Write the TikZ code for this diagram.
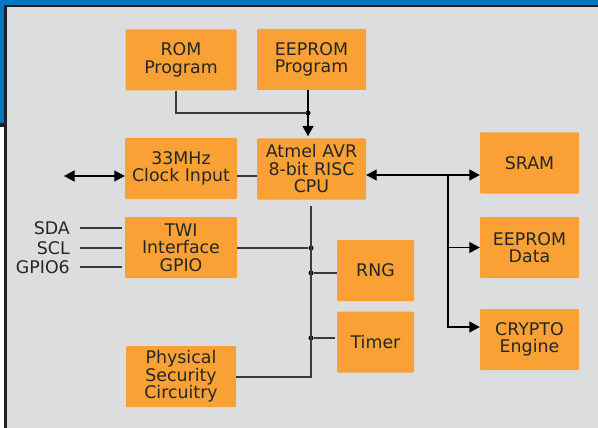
\documentclass[tikz,border=0pt]{standalone}
\usepackage{fontspec}
\setmainfont{DejaVu Sans}
\usetikzlibrary{arrows.meta}
\definecolor{boxorange}{HTML}{F9A134}
\definecolor{panelgray}{HTML}{DCDDDE}
\definecolor{frameblue}{HTML}{0078C0}
\definecolor{framedark}{HTML}{231F20}
\definecolor{txtgray}{HTML}{262626}
\definecolor{wiregray}{HTML}{3A3A3A}

\begin{document}
\begin{tikzpicture}[x=1pt, y=-1pt,
    blk/.style={fill=boxorange, rounded corners=1pt, text=txtgray, align=center,
      inner sep=0pt, minimum height=61pt, font=\fontsize{17.4}{17.5}\selectfont},
    wire/.style={draw=wiregray, line width=1.3pt},
    arr/.style={draw=black, line width=1.3pt, -{Triangle[length=10.5pt,width=11pt]}},
    darr/.style={draw=black, line width=1.3pt, {Triangle[length=10.5pt,width=11pt]}-{Triangle[length=10.5pt,width=11pt]}},
    jdot/.style={circle, fill=black, inner sep=0pt, minimum size=5pt},
    sigtxt/.style={text=txtgray, anchor=east, inner sep=0pt, font=\fontsize{17.4}{17.5}\selectfont}]
    \useasboundingbox (0,0) rectangle (598,428);

    % 枠
    \fill[white] (0,0) rectangle (598,428);
    \fill[frameblue] (0,0) rectangle (598,5);
    \fill[frameblue] (0,0) rectangle (4,123);
    \fill[framedark] (4,5) rectangle (598,7);
    \fill[framedark] (4,5) rectangle (7,428);
    \fill[framedark] (0,123) rectangle (7,127);
    \fill[panelgray] (7,7) rectangle (598,428);

    % ブロック
    \node[blk, minimum width=111pt] (rom) at (181,60) {ROM\\Program};
    \node[blk, minimum width=109pt] (eep) at (311.5,59.5) {EEPROM\\Program};
    \node[blk, minimum width=112pt] (clock) at (181,168.5) {33MHz\\Clock Input};
    \node[blk, minimum width=109pt] (cpu) at (311.5,169) {Atmel AVR\\8-bit RISC\\CPU};
    \node[blk, minimum width=99pt] (sram) at (529.5,163) {SRAM};
    \node[blk, minimum width=99pt] (eepd) at (529.5,247.5) {EEPROM\\Data};
    \node[blk, minimum width=99pt] (crypto) at (529.5,339.5) {CRYPTO\\Engine};
    \node[blk, minimum width=112pt] (twi) at (181,247.5) {TWI\\Interface\\GPIO};
    \node[blk, minimum width=77pt] (rng) at (375.5,270.5) {RNG};
    \node[blk, minimum width=77pt] (timer) at (375.5,342) {Timer};
    \node[blk, minimum width=110pt] (phys) at (181,376.5) {Physical\\Security\\Circuitry};

    % 信号名
    \node[sigtxt] (sda) at (70,228) {SDA};
    \node[sigtxt] (scl) at (70,248) {SCL};
    \node[sigtxt] (gpio) at (70,267) {GPIO6};

    % 分岐点
    \coordinate (j1) at (308,113);
    \coordinate (clk) at (64,176);
    \coordinate (bus) at (448,175);
    \coordinate (cpub) at (311,206);
    \coordinate (busend) at (311,377);
    \node[jdot] (d1) at (j1) {};
    \node[jdot] (d2) at (311,248) {};
    \node[jdot] (d3) at (311,273) {};
    \node[jdot] (d4) at (311,338) {};

    % 接続
    \draw[wire] ([xshift=-5pt]rom.south) |- (j1);
    \draw[arr, shorten >=2pt] (eep.south -| j1) -- (cpu.north -| j1);
    \draw[darr] (clk) -- (clock.west |- clk);
    \draw[wire] (clock.east |- clk) -- (cpu.west |- clk);
    \draw[darr] (cpu.east |- bus) -- (sram.west |- bus);
    \draw[arr] (bus) |- (eepd.west);
    \draw[arr] (bus) |- ([yshift=12.5pt]crypto.west);
    \draw[wire] (cpub) -- (busend) -- (phys.east |- busend);
    \draw[wire] (twi.east |- d2) -- (d2);
    \draw[wire] (d3) -- (rng.west |- d3);
    \draw[wire] (d4) -- ([xshift=-2pt]timer.west |- d4);
    \draw[wire] ([xshift=10pt]sda.east) -- ([xshift=-3pt]twi.west |- sda.east);
    \draw[wire] ([xshift=10pt]scl.east) -- ([xshift=-3pt]twi.west |- scl.east);
    \draw[wire] ([xshift=10pt]gpio.east) -- ([xshift=-3pt]twi.west |- gpio.east);
\end{tikzpicture}
\end{document}
